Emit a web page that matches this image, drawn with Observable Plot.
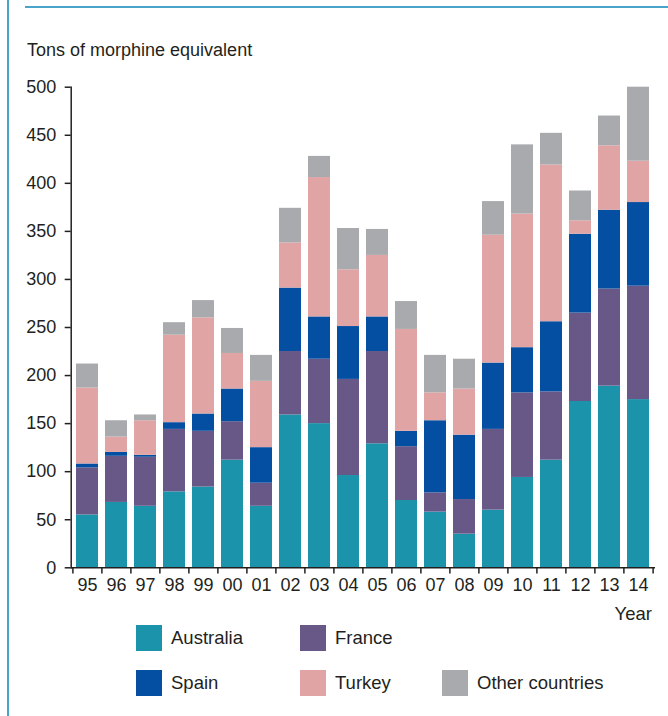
<!DOCTYPE html>
<html>
<head>
<meta charset="utf-8">
<script src="https://cdn.jsdelivr.net/npm/d3@7"></script>
<script src="https://cdn.jsdelivr.net/npm/@observablehq/plot@0.6"></script>
<style>
  html, body { margin: 0; padding: 0; background: #fff; }
  #wrap { position: relative; width: 668px; height: 716px; overflow: hidden;
          font-family: "Liberation Sans", Arial, sans-serif; color: #231f20; }
  #vline { position: absolute; left: 7px; top: 0; width: 2px; height: 716px; background: #4aa3c8; }
  #hline { position: absolute; left: 25px; top: 6px; right: 0; height: 2px; background: #4aa3c8; }
  #title { position: absolute; left: 27px; top: 40px; font-size: 18px; white-space: nowrap; }
  #chart { position: absolute; left: 0; top: 70px; }
  #year { position: absolute; right: 16px; top: 603px; font-size: 18.5px; }
  .sw { position: absolute; width: 26px; height: 26px; }
  .lt { position: absolute; font-size: 18.5px; white-space: nowrap; line-height: 26px; }
  svg text { fill: #231f20; }
</style>
</head>
<body>
<div id="wrap">
  <div id="vline"></div>
  <div id="hline"></div>
  <div id="title">Tons of morphine equivalent</div>
  <div id="chart"></div>
  <div id="year">Year</div>
  <div id="legend"></div>
</div>
<script>
const years = ["95","96","97","98","99","00","01","02","03","04","05","06","07","08","09","10","11","12","13","14"];
const australia = [55, 68, 64, 79, 84, 112, 64, 159, 150, 96, 129, 70, 58, 35, 60, 94, 112, 173, 189, 175];
const france    = [49, 48, 51, 65, 58, 40, 24, 66, 67, 100, 96, 56, 20, 36, 84, 88, 71, 92, 101, 118];
const spain     = [4, 4, 2, 7, 18, 34, 37, 66, 44, 55, 36, 16, 75, 67, 69, 47, 73, 82, 82, 87];
const turkey    = [79, 16, 36, 91, 100, 37, 69, 47, 145, 59, 64, 106, 29, 48, 133, 139, 163, 14, 67, 43];
const other     = [25, 17, 6, 13, 18, 26, 27, 36, 22, 43, 27, 29, 39, 31, 35, 72, 33, 31, 31, 77];
const series = ["Australia", "France", "Spain", "Turkey", "Other countries"];
const colors = ["#1b93aa", "#685888", "#054fa3", "#e1a4a5", "#a9aaae"];
const yTicks = [0, 50, 100, 150, 200, 250, 300, 350, 400, 450, 500];

const values = [australia, france, spain, turkey, other];
const data = years.flatMap((yr, i) => series.map((s, j) => ({year: yr, country: s, value: values[j][i]})));

const W = 668, H = 530, mL = 70.7, mR = 13, mT = 16.7, mB = 32.7;
const step = (W - mL - mR) / years.length;

const chart = Plot.plot({
  width: W, height: H,
  marginLeft: mL, marginRight: mR, marginTop: mT, marginBottom: mB,
  style: {fontFamily: "'Liberation Sans', Arial, sans-serif", fontSize: "18px", background: "transparent", overflow: "visible"},
  x: {domain: years, paddingInner: 0.25, paddingOuter: 0.125},
  y: {domain: [0, 500]},
  color: {domain: series, range: colors},
  marks: [
    Plot.barY(data, {x: "year", y: "value", fill: "country"}),
    Plot.axisY({ticks: yTicks, tickSize: 6, tickPadding: 9, label: null, stroke: "#231f20", strokeWidth: 1.5, fontSize: "18px"}),
    Plot.axisX({tickSize: 0, tickPadding: 10.5, label: null, fontSize: "18px"}),
    Plot.ruleX(years, {x: d => d, y1: 0, y2: -6.4, dx: -step / 2, stroke: "#231f20", strokeWidth: 1.5}),
    Plot.ruleX(years.slice(-1), {x: d => d, y1: 0, y2: -6.4, dx: step / 2, stroke: "#231f20", strokeWidth: 1.5}),
    Plot.ruleY([0], {stroke: "#231f20", strokeWidth: 1.5}),
    Plot.frame({anchor: "left", stroke: "#231f20", strokeWidth: 1.5})
  ]
});
document.getElementById("chart").appendChild(chart);

// Legend
const legendPos = [[136, 625], [300, 625], [136, 670], [300, 670], [442, 670]];
const legend = document.getElementById("legend");
series.forEach((s, i) => {
  const [lx, ly] = legendPos[i];
  const sw = document.createElement("div");
  sw.className = "sw";
  sw.style.left = lx + "px"; sw.style.top = ly + "px"; sw.style.background = colors[i];
  const t = document.createElement("div");
  t.className = "lt";
  t.style.left = (lx + 35) + "px"; t.style.top = ly + "px";
  t.textContent = s;
  legend.appendChild(sw); legend.appendChild(t);
});
</script>
</body>
</html>
